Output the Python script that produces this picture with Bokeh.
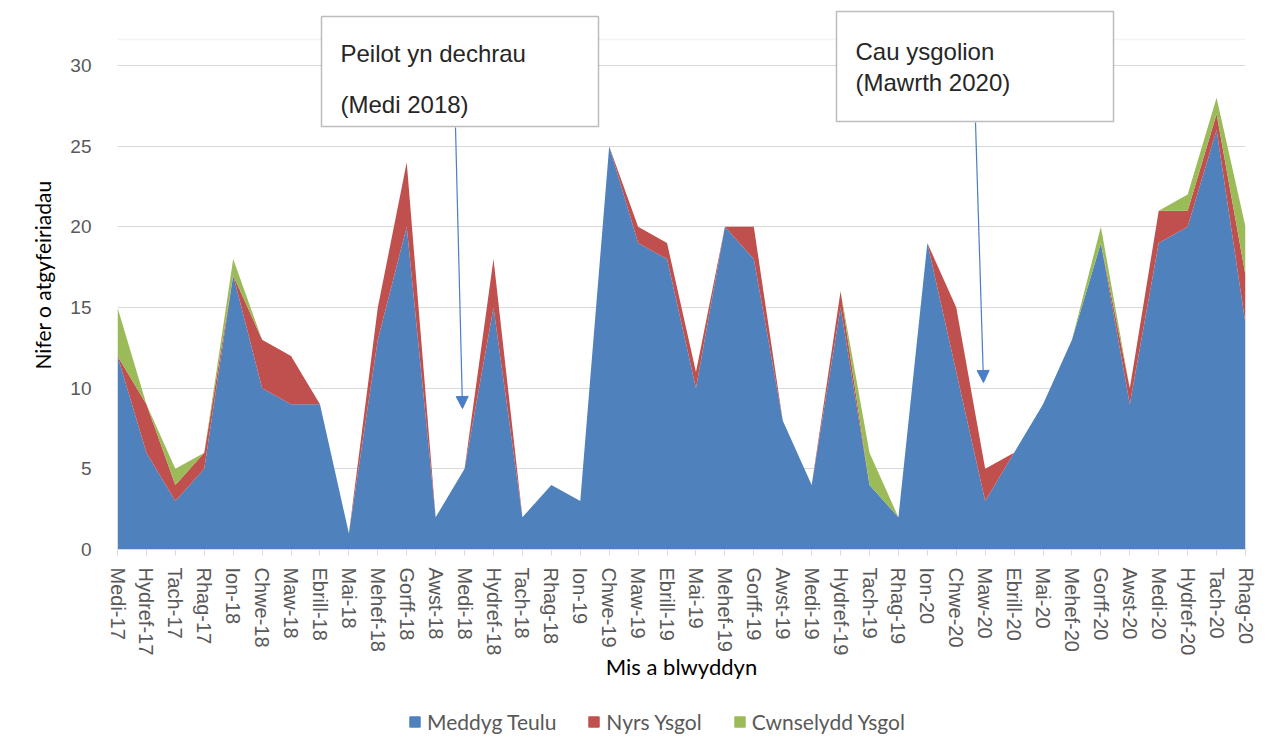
from bokeh.plotting import figure
from bokeh.layouts import column
from bokeh.models import (ColumnDataSource, Range1d, FixedTicker, BoxAnnotation, Label,
                          Arrow, NormalHead, Legend)
from bokeh.embed import file_html
from bokeh.resources import INLINE

months = ["Medi-17", "Hydref-17", "Tach-17", "Rhag-17", "Ion-18", "Chwe-18", "Maw-18", "Ebrill-18",
          "Mai-18", "Mehef-18", "Gorff-18", "Awst-18", "Medi-18", "Hydref-18", "Tach-18", "Rhag-18",
          "Ion-19", "Chwe-19", "Maw-19", "Ebrill-19", "Mai-19", "Mehef-19", "Gorff-19", "Awst-19",
          "Medi-19", "Hydref-19", "Tach-19", "Rhag-19", "Ion-20", "Chwe-20", "Maw-20", "Ebrill-20",
          "Mai-20", "Mehef-20", "Gorff-20", "Awst-20", "Medi-20", "Hydref-20", "Tach-20", "Rhag-20"]

meddyg_teulu = [12, 6, 3, 5, 17, 10, 9, 9, 1, 13, 20, 2, 5, 15, 2, 4,
                3, 25, 19, 18, 10, 20, 18, 8, 4, 15, 4, 2, 19, 11, 3, 6,
                9, 13, 19, 9, 19, 20, 26, 14]
nyrs_ysgol = [0, 3, 1, 1, 0, 3, 3, 0, 0, 2, 4, 0, 0, 3, 0, 0,
              0, 0, 1, 1, 1, 0, 2, 0, 0, 1, 0, 0, 0, 4, 2, 0,
              0, 0, 0, 1, 2, 1, 1, 3]
cwnselydd_ysgol = [3, 0, 1, 0, 1, 0, 0, 0, 0, 0, 0, 0, 0, 0, 0, 0,
                   0, 0, 0, 0, 0, 0, 0, 0, 0, 0, 2, 0, 0, 0, 0, 0,
                   0, 0, 1, 0, 0, 1, 1, 3]

series_names = ["Meddyg Teulu", "Nyrs Ysgol", "Cwnselydd Ysgol"]
colors = ["#4F81BD", "#C0504D", "#9BBB59"]
y_ticks = [0, 5, 10, 15, 20, 25, 30]

x_idx = list(range(len(months)))
source = ColumnDataSource(dict(x=x_idx, gp=meddyg_teulu, nurse=nyrs_ysgol, couns=cwnselydd_ysgol))

# pixel geometry helpers (frame: x 117..1245, y=0 at 549, y=30 at 65)
XPX = 1128 / 39.0
YPX = 484 / 30.0
def dx(px):
    return (px - 117) / XPX
def dy(py):
    return (549 - py) / YPX

p = figure(width=1280, height=700, output_backend="svg", toolbar_location=None,
           x_range=Range1d(0, len(months) - 1), y_range=Range1d(0, dy(0)),
           min_border_left=117, min_border_right=35, min_border_top=0, min_border_bottom=151)
p.outline_line_color = None
p.background_fill_color = "white"
p.border_fill_color = "white"

rs = p.varea_stack(stackers=["gp", "nurse", "couns"], x="x", color=colors, source=source)

# axes
p.xaxis.ticker = FixedTicker(ticks=x_idx)
p.xaxis.major_label_overrides = {i: m for i, m in enumerate(months)}
p.xaxis.major_label_orientation = "vertical"
p.xaxis.major_label_text_font = "Liberation Sans"
p.xaxis.major_label_text_font_size = "20px"
p.xaxis.major_label_text_color = "#595959"
p.xaxis.major_label_standoff = 12
p.xaxis.axis_line_color = "#d9d9d9"
p.xaxis.major_tick_line_color = "#d9d9d9"
p.xaxis.major_tick_out = 6
p.xaxis.major_tick_in = 0
p.xaxis.minor_tick_line_color = None
p.xaxis.axis_label = "Mis a blwyddyn"
p.xaxis.axis_label_text_font = "Lato"
p.xaxis.axis_label_text_font_size = "22px"
p.xaxis.axis_label_text_font_style = "normal"
p.xaxis.axis_label_text_color = "#000000"
p.xaxis.axis_label_standoff = -5

p.yaxis.ticker = FixedTicker(ticks=y_ticks)
p.yaxis.major_label_text_font = "Liberation Sans"
p.yaxis.major_label_text_font_size = "19px"
p.yaxis.major_label_text_color = "#595959"
p.yaxis.major_label_standoff = 20
p.yaxis.axis_line_color = None
p.yaxis.major_tick_line_color = None
p.yaxis.minor_tick_line_color = None
p.yaxis.axis_label = "Nifer o atgyfeiriadau"
p.yaxis.axis_label_text_font = "Lato"
p.yaxis.axis_label_text_font_size = "21px"
p.yaxis.axis_label_text_font_style = "normal"
p.yaxis.axis_label_text_color = "#000000"
p.yaxis.axis_label_standoff = 12

p.xgrid.grid_line_color = None
p.ygrid.ticker = FixedTicker(ticks=y_ticks)
p.ygrid.grid_line_color = "#d9d9d9"
p.ygrid.grid_line_width = 1

# outer chart border (top edge, visible part)
p.add_layout(BoxAnnotation(left=dx(10), right=dx(1300), top=dy(39), bottom=dy(800),
                           fill_color=None, line_color="#d9d9d9", line_width=1.5, level="underlay"))

# annotation boxes
box_style = dict(fill_color="white", fill_alpha=1, line_color="#262626", line_width=1.5, level="overlay")
p.add_layout(BoxAnnotation(left=dx(321), right=dx(598), top=dy(16), bottom=dy(126), **box_style))
p.add_layout(BoxAnnotation(left=dx(836), right=dx(1113), top=dy(11), bottom=dy(121), **box_style))

lab_style = dict(text_font="Liberation Sans", text_font_size="24px", text_color="#262626",
                 text_baseline="middle", text_align="left", level="overlay")
p.add_layout(Label(x=dx(340), y=dy(53), text="Peilot yn dechrau", **lab_style))
p.add_layout(Label(x=dx(340), y=dy(104), text="(Medi 2018)", **lab_style))
p.add_layout(Label(x=dx(855), y=dy(51), text="Cau ysgolion", **lab_style))
p.add_layout(Label(x=dx(855), y=dy(82), text="(Mawrth 2020)", **lab_style))

arrow_col = "#4A7EC7"
p.add_layout(Arrow(x_start=dx(455), y_start=dy(127), x_end=dx(462), y_end=dy(408),
                   line_color=arrow_col, line_width=1.2, level="overlay",
                   end=NormalHead(size=12, fill_color=arrow_col, line_color=arrow_col)))
p.add_layout(Arrow(x_start=dx(975), y_start=dy(122), x_end=dx(983), y_end=dy(382),
                   line_color=arrow_col, line_width=1.2, level="overlay",
                   end=NormalHead(size=12, fill_color=arrow_col, line_color=arrow_col)))

# legend strip (separate small figure below the chart; swatch glyphs lie outside its view)
lf = figure(width=1280, height=44, output_backend="svg", toolbar_location=None,
            x_range=Range1d(0, 1), y_range=Range1d(0, 1), min_border=0,
            min_border_left=117, min_border_right=35,
            x_axis_location=None, y_axis_location=None)
lf.outline_line_color = None
lf.grid.visible = False
lrs = [lf.quad(left=[-3], right=[-2], bottom=[-3], top=[-2], color=c) for c in colors]
legend = Legend(items=[(n, [r]) for n, r in zip(series_names, lrs)], orientation="horizontal",
                location=(291, 10), border_line_color=None, background_fill_alpha=0,
                label_text_font="Lato", label_text_font_size="21px", label_text_color="#595959",
                glyph_width=13, glyph_height=13, spacing=31, label_standoff=6, margin=0, padding=4)
lf.add_layout(legend)

layout = column(p, lf, spacing=0)
open("out.html", "w").write(file_html(layout, INLINE))
